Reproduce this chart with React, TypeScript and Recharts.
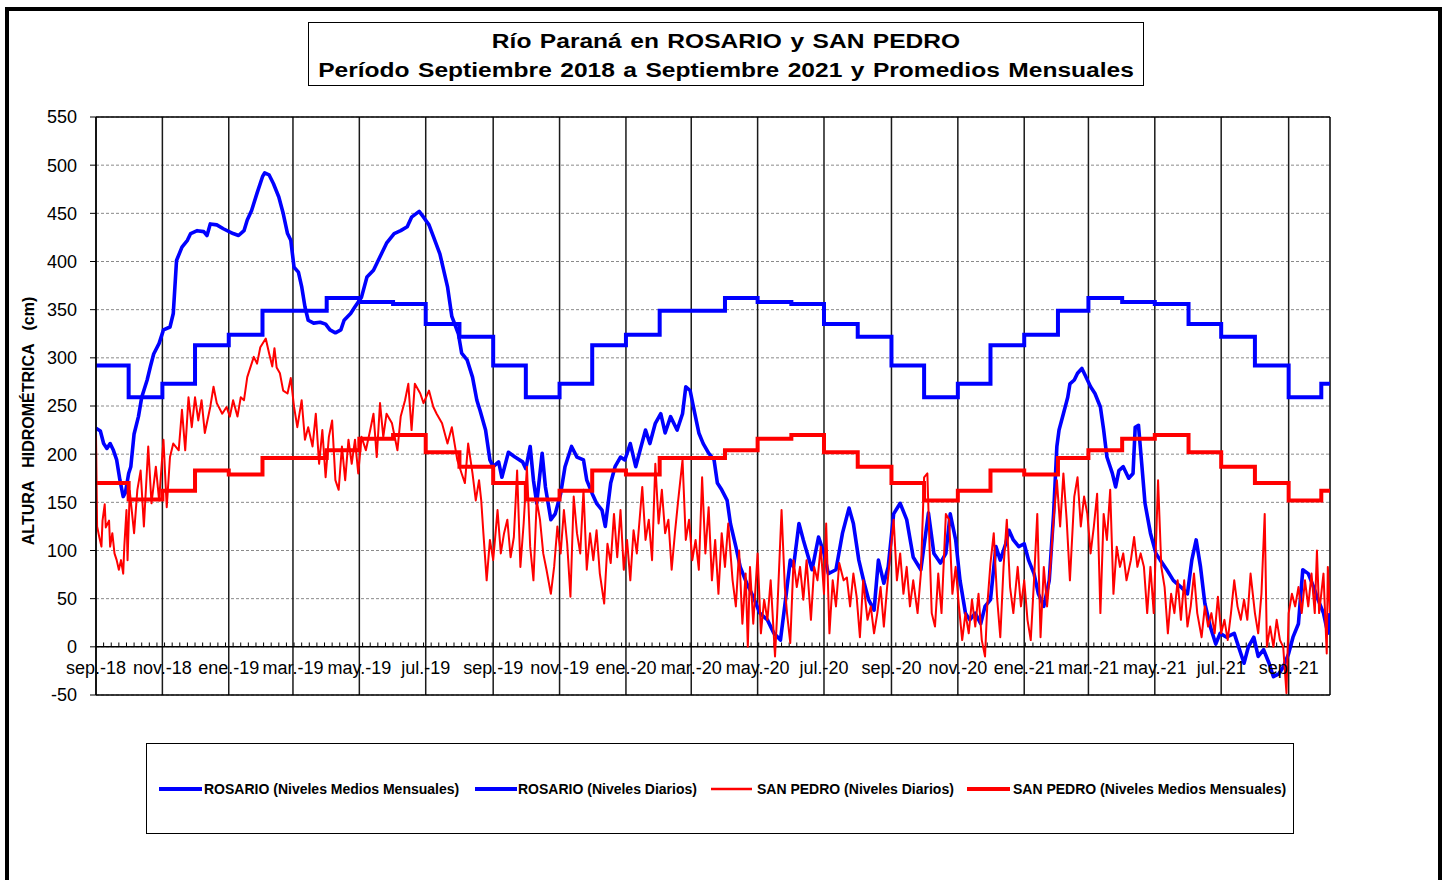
import React from 'react';
import { LineChart, Line, XAxis, YAxis, CartesianGrid, ReferenceLine } from 'recharts';

// ---------- DATA ----------
// months covered by the monthly-mean step lines (Sep 2018 .. Oct 2021)
const monthKeys = [
  '2018-09', '2018-10', '2018-11', '2018-12', '2019-01', '2019-02', '2019-03', '2019-04', '2019-05', '2019-06', '2019-07', '2019-08',
  '2019-09', '2019-10', '2019-11', '2019-12', '2020-01', '2020-02', '2020-03', '2020-04', '2020-05', '2020-06', '2020-07', '2020-08',
  '2020-09', '2020-10', '2020-11', '2020-12', '2021-01', '2021-02', '2021-03', '2021-04', '2021-05', '2021-06', '2021-07', '2021-08',
  '2021-09', '2021-10',
];

const rosarioMonthly = [
  292, 259, 273, 313, 324, 349, 349, 362, 358, 356, 335, 322,
  292, 259, 273, 313, 324, 349, 349, 362, 358, 356, 335, 322,
  292, 259, 273, 313, 324, 349, 362, 358, 356, 335, 322, 292,
  259, 273,
];

const sanPedroMonthly = [
  170, 153, 162, 183, 179, 196, 196, 204, 216, 220, 202, 187,
  170, 153, 162, 183, 179, 196, 196, 204, 216, 220, 202, 187,
  170, 152, 162, 183, 179, 196, 204, 216, 220, 202, 187, 170,
  152, 162,
];

// tick labels (every two months)
const tickMonths = [
  '2018-09', '2018-11', '2019-01', '2019-03', '2019-05', '2019-07', '2019-09', '2019-11', '2020-01', '2020-03',
  '2020-05', '2020-07', '2020-09', '2020-11', '2021-01', '2021-03', '2021-05', '2021-07', '2021-09',
];
const tickLabels = [
  'sep.-18', 'nov.-18', 'ene.-19', 'mar.-19', 'may.-19', 'jul.-19', 'sep.-19', 'nov.-19', 'ene.-20', 'mar.-20',
  'may.-20', 'jul.-20', 'sep.-20', 'nov.-20', 'ene.-21', 'mar.-21', 'may.-21', 'jul.-21', 'sep.-21',
];

// daily levels: [days since 1 Sep 2018, cm]
const rosarioDaily: [number, number][] = [
  [0, 227], [4, 224], [7, 211], [10, 206], [13, 211], [16, 204], [19, 194], [22, 173], [25, 156], [27, 160], [30, 180], [32, 187],
  [35, 221], [39, 239], [42, 259], [47, 277], [50, 291], [53, 304], [58, 315], [62, 329], [68, 332], [71, 346], [74, 401], [79, 415],
  [84, 422], [87, 429], [93, 432], [99, 431], [102, 427], [105, 439], [111, 438], [117, 434], [126, 429], [131, 427], [136, 432],
  [139, 443], [143, 453], [148, 471], [153, 488], [155, 492], [159, 490], [163, 481], [168, 467], [172, 450], [176, 429], [179, 422],
  [182, 394], [186, 389], [189, 374], [192, 353], [195, 339], [200, 336], [206, 337], [211, 335], [215, 329], [220, 326], [225, 329],
  [228, 339], [234, 346], [238, 353], [244, 363], [249, 384], [255, 391], [261, 405], [267, 419], [274, 429], [280, 432], [286, 436],
  [290, 446], [297, 452], [301, 446], [306, 438], [310, 426], [316, 408], [323, 374], [327, 343], [333, 325], [336, 305], [341, 298],
  [346, 280], [350, 256], [353, 245], [358, 225], [362, 194], [365, 187], [370, 192], [373, 176], [379, 202], [385, 197], [392, 192],
  [395, 185], [399, 208], [402, 173], [405, 149], [410, 201], [413, 166], [418, 132], [422, 138], [427, 159], [431, 187], [437, 208],
  [442, 197], [448, 194], [451, 173], [456, 159], [460, 149], [465, 142], [468, 125], [473, 170], [477, 187], [482, 197], [486, 194],
  [491, 211], [496, 187], [500, 204], [505, 225], [509, 211], [514, 232], [519, 242], [523, 222], [528, 239], [534, 225], [539, 242],
  [542, 270], [546, 266], [549, 249], [554, 222], [558, 211], [563, 201], [568, 194], [571, 170], [575, 163], [580, 152], [583, 128],
  [588, 104], [592, 83], [598, 66], [604, 52], [610, 35], [617, 28], [623, 14], [629, 7], [634, 52], [638, 90], [641, 83], [646, 128],
  [650, 111], [658, 80], [664, 114], [669, 97], [673, 76], [680, 80], [686, 118], [692, 144], [696, 128], [701, 90], [706, 66],
  [710, 49], [715, 38], [719, 90], [724, 66], [728, 83], [733, 138], [739, 149], [745, 132], [751, 93], [758, 80], [765, 139],
  [770, 97], [776, 87], [781, 97], [785, 138], [790, 111], [794, 69], [799, 35], [803, 28], [808, 35], [813, 24], [817, 42], [822, 49],
  [827, 104], [831, 90], [836, 107], [839, 121], [843, 111], [848, 104], [853, 107], [857, 90], [862, 76], [866, 55], [871, 42],
  [876, 69], [880, 138], [883, 208], [885, 225], [889, 242], [893, 259], [895, 273], [899, 277], [902, 284], [906, 289], [909, 282],
  [914, 270], [918, 263], [923, 249], [926, 225], [929, 197], [934, 180], [937, 166], [940, 183], [944, 187], [949, 175], [953, 180],
  [955, 228], [958, 230], [961, 190], [964, 149], [969, 118], [974, 97], [978, 90], [984, 80], [990, 69], [997, 62], [1003, 55],
  [1007, 90], [1011, 111], [1015, 83], [1019, 45], [1024, 21], [1029, 3], [1033, 14], [1039, 10], [1046, 14], [1050, 0], [1055, -17],
  [1059, 0], [1064, 10], [1068, -10], [1073, -3], [1078, -17], [1082, -31], [1087, -28], [1091, -21], [1096, -7], [1100, 10],
  [1105, 24], [1109, 80], [1114, 76], [1119, 62], [1123, 49], [1128, 35], [1132, 14], [1134, 35],
];

const sanPedroDaily: [number, number][] = [
  [0, 220], [1, 125], [3, 114], [5, 104], [6, 131], [8, 148], [9, 124], [12, 131], [13, 104], [15, 118], [17, 97], [19, 90], [21, 80],
  [23, 90], [25, 76], [26, 104], [28, 142], [29, 90], [31, 162], [35, 118], [38, 163], [41, 183], [44, 125], [48, 208], [51, 149],
  [55, 187], [58, 152], [62, 215], [65, 145], [68, 197], [71, 211], [76, 204], [79, 246], [82, 204], [85, 259], [88, 228], [91, 259],
  [94, 235], [97, 256], [100, 222], [105, 249], [108, 270], [111, 253], [116, 242], [120, 249], [123, 239], [126, 256], [130, 239],
  [133, 259], [136, 256], [139, 280], [145, 301], [148, 294], [151, 311], [156, 320], [159, 305], [162, 291], [164, 310], [166, 290],
  [169, 284], [172, 266], [176, 263], [179, 279], [182, 249], [185, 228], [189, 256], [192, 215], [195, 228], [199, 208], [202, 242],
  [205, 190], [208, 225], [211, 176], [214, 218], [217, 235], [220, 173], [223, 163], [226, 208], [229, 173], [232, 215], [235, 190],
  [238, 215], [241, 180], [244, 218], [248, 204], [252, 225], [255, 242], [258, 197], [261, 253], [264, 218], [267, 242], [272, 232],
  [277, 204], [280, 239], [284, 256], [287, 273], [290, 225], [293, 273], [298, 263], [301, 253], [306, 266], [310, 249], [313, 242],
  [318, 232], [323, 211], [327, 228], [332, 194], [336, 180], [339, 170], [342, 211], [346, 180], [349, 152], [352, 173], [354, 152],
  [356, 118], [359, 69], [362, 111], [365, 90], [369, 142], [372, 97], [375, 118], [378, 132], [381, 93], [384, 114], [387, 183],
  [390, 83], [393, 128], [396, 187], [399, 104], [402, 69], [405, 152], [408, 132], [411, 97], [414, 80], [418, 55], [421, 83],
  [424, 125], [427, 97], [430, 142], [433, 107], [436, 52], [439, 156], [442, 118], [445, 97], [448, 163], [451, 80], [454, 118],
  [457, 90], [460, 121], [463, 76], [467, 45], [470, 107], [473, 87], [476, 138], [479, 93], [482, 142], [485, 80], [488, 111],
  [491, 69], [494, 121], [497, 97], [502, 166], [505, 111], [508, 132], [511, 90], [514, 190], [517, 128], [520, 163], [523, 118],
  [526, 132], [529, 80], [532, 118], [535, 152], [539, 194], [542, 111], [545, 132], [548, 90], [551, 111], [554, 80], [557, 176],
  [560, 97], [563, 145], [566, 69], [569, 111], [572, 55], [575, 118], [578, 83], [581, 128], [585, 69], [588, 42], [591, 100],
  [594, 24], [597, 76], [599, 0], [601, 83], [604, 24], [608, 97], [611, 14], [614, 49], [617, 28], [620, 69], [624, -10], [626, 35],
  [630, 142], [633, 62], [635, 35], [638, 4], [641, 90], [644, 62], [647, 83], [650, 49], [653, 90], [657, 28], [660, 83], [663, 69],
  [666, 104], [669, 55], [671, 128], [674, 14], [677, 69], [680, 42], [683, 87], [687, 69], [690, 72], [693, 42], [696, 76], [699, 52],
  [702, 10], [705, 69], [709, 28], [712, 42], [715, 14], [718, 35], [721, 62], [724, 21], [727, 62], [730, 97], [733, 132], [736, 69],
  [739, 97], [742, 55], [745, 83], [748, 42], [751, 69], [755, 35], [758, 76], [761, 176], [764, 180], [766, 104], [768, 35], [771, 21],
  [774, 76], [777, 35], [781, 138], [784, 132], [787, 55], [790, 83], [793, 42], [796, 7], [799, 35], [802, 14], [805, 49], [808, 21],
  [811, 55], [814, 7], [817, -10], [819, 42], [822, 87], [825, 118], [828, 52], [831, 10], [834, 83], [837, 132], [840, 62], [843, 35],
  [847, 83], [850, 42], [853, 69], [856, 28], [859, 7], [862, 69], [865, 138], [868, 10], [871, 83], [874, 42], [877, 83], [880, 132],
  [883, 173], [886, 125], [889, 180], [892, 132], [895, 69], [899, 156], [902, 176], [905, 125], [908, 156], [911, 138], [914, 97],
  [917, 125], [920, 159], [923, 35], [926, 138], [929, 111], [932, 163], [935, 55], [938, 104], [941, 83], [944, 97], [947, 69],
  [951, 90], [954, 114], [957, 83], [960, 97], [963, 83], [966, 35], [969, 83], [972, 35], [976, 173], [979, 83], [982, 62], [985, 14],
  [988, 55], [991, 35], [994, 69], [997, 28], [1000, 69], [1003, 21], [1006, 42], [1009, 76], [1012, 35], [1016, 10], [1019, 42],
  [1022, 21], [1025, 35], [1028, 14], [1031, 52], [1034, 14], [1037, 28], [1040, 7], [1043, 35], [1046, 69], [1049, 42], [1052, 28],
  [1055, 49], [1058, 28], [1061, 76], [1065, 35], [1068, 14], [1071, 55], [1074, 138], [1076, 0], [1079, 21], [1082, 0], [1085, 28],
  [1088, 7], [1091, 0], [1094, -48], [1096, 35], [1099, 55], [1102, 42], [1105, 62], [1108, 35], [1111, 69], [1114, 42], [1117, 76],
  [1120, 35], [1122, 100], [1124, 35], [1128, 76], [1131, -7], [1132, 83], [1134, 35],
];

const yTicks = [-50, 0, 50, 100, 150, 200, 250, 300, 350, 400, 450, 500, 550];
const LAST_DAY = 1134;

// ---------- derived tables ----------
const START = Date.UTC(2018, 8, 1);
const dayOfKey = (k: string) => {
  const [y, m] = k.split('-').map(Number);
  return Math.round((Date.UTC(y, m - 1, 1) - START) / 86400000);
};

const stepTable = (vals: number[]) => {
  const rows = monthKeys.map((k, i) => ({ d: dayOfKey(k), v: vals[i] }));
  rows.push({ d: LAST_DAY, v: vals[vals.length - 1] });
  return rows;
};
const dailyTable = (pairs: [number, number][]) => pairs.map(([d, v]) => ({ d, v }));

const rosarioMonthlyData = stepTable(rosarioMonthly);
const sanPedroMonthlyData = stepTable(sanPedroMonthly);
const rosarioDailyData = dailyTable(rosarioDaily);
const sanPedroDailyData = dailyTable(sanPedroDaily);

const tickDays = tickMonths.map(dayOfKey);
const labelByDay: Record<number, string> = {};
tickDays.forEach((d, i) => { labelByDay[d] = tickLabels[i]; });
const minorTickDays: number[] = [];
for (let d = 7; d < LAST_DAY; d += 7) minorTickDays.push(d);

const FONT = '"Liberation Sans", Arial, Helvetica, sans-serif';
const BLUE = '#0000FF';
const RED = '#FF0000';

const XTick = (props: any) => {
  const { x, y, payload } = props;
  return (
    <text x={x} y={y - 21} textAnchor="middle" fontSize={18} fontFamily={FONT} fill="#000">
      {labelByDay[payload.value]}
    </text>
  );
};

const legendItems = [
  { label: 'ROSARIO (Niveles Medios Mensuales)', color: BLUE, w: 4, l1: 159, l2: 202, t: 204 },
  { label: 'ROSARIO (Niveles Diarios)', color: BLUE, w: 4, l1: 475, l2: 517, t: 518 },
  { label: 'SAN PEDRO (Niveles Diarios)', color: RED, w: 2.5, l1: 711, l2: 752, t: 757 },
  { label: 'SAN PEDRO (Niveles Medios Mensuales)', color: RED, w: 4, l1: 967, l2: 1010, t: 1013 },
];

export default function App() {
  return (
    <div style={{ position: 'absolute', left: 0, top: 0, width: 1450, height: 880, overflow: 'hidden', background: '#fff', fontFamily: FONT }}>
      <div style={{ position: 'absolute', left: 0, top: 0 }}>
        <LineChart width={1450} height={880} margin={{ top: 117, right: 120, bottom: 155, left: 36 }}>
          <CartesianGrid horizontal vertical={false} stroke="#8a8a8a" strokeDasharray="3 2" />
          <XAxis
            dataKey="d"
            type="number"
            domain={[0, LAST_DAY]}
            ticks={tickDays}
            interval={0}
            allowDataOverflow
            height={30}
            tickLine={false}
            tickSize={0}
            tickMargin={0}
            axisLine={{ stroke: '#000', strokeWidth: 1.5 }}
            tick={<XTick />}
          />
          <YAxis
            type="number"
            domain={[-50, 550]}
            ticks={yTicks}
            interval={0}
            width={60}
            allowDataOverflow
            axisLine={{ stroke: '#000', strokeWidth: 1.5 }}
            tickLine={{ stroke: '#000', strokeWidth: 1 }}
            tickSize={6}
            tickMargin={13}
            tick={{ fontSize: 18, fill: '#000', fontFamily: FONT }}
          />
          {tickDays.map((d) => (
            <ReferenceLine key={'v' + d} x={d} stroke="#1a1a1a" strokeWidth={1.5} />
          ))}
          <ReferenceLine y={550} stroke="#000" strokeWidth={1.5} />
          <ReferenceLine x={LAST_DAY} stroke="#000" strokeWidth={1.5} />
          <ReferenceLine y={0} stroke="#000" strokeWidth={1.5} />
          {minorTickDays.map((d) => (
            <ReferenceLine key={'m' + d} segment={[{ x: d, y: 0 }, { x: d, y: 4.5 }]} stroke="#000" strokeWidth={1} />
          ))}
          <Line data={rosarioMonthlyData} dataKey="v" type="stepAfter" stroke={BLUE} strokeWidth={4} dot={false} isAnimationActive={false} name="ROSARIO (Niveles Medios Mensuales)" />
          <Line data={rosarioDailyData} dataKey="v" type="linear" stroke={BLUE} strokeWidth={3.6} strokeLinejoin="round" dot={false} isAnimationActive={false} name="ROSARIO (Niveles Diarios)" />
          <Line data={sanPedroDailyData} dataKey="v" type="linear" stroke={RED} strokeWidth={2} strokeLinejoin="round" dot={false} isAnimationActive={false} name="SAN PEDRO (Niveles Diarios)" />
          <Line data={sanPedroMonthlyData} dataKey="v" type="stepAfter" stroke={RED} strokeWidth={4} dot={false} isAnimationActive={false} name="SAN PEDRO (Niveles Medios Mensuales)" />
        </LineChart>
      </div>

      {/* outer frame */}
      <div style={{ position: 'absolute', left: 5, top: 7, width: 1437, height: 873, boxSizing: 'border-box', borderTop: '4px solid #000', borderLeft: '4px solid #000', borderRight: '4px solid #000', pointerEvents: 'none' }} />

      {/* title */}
      <div style={{ position: 'absolute', left: 308, top: 22, width: 836, height: 64, boxSizing: 'border-box', border: '1px solid #000', background: '#fff' }} />
      <svg style={{ position: 'absolute', left: 0, top: 0 }} width={1450} height={880} pointerEvents="none">
        <g transform="translate(726 48) scale(1.17 1)">
          <text x={0} y={0} textAnchor="middle" fontFamily={FONT} fontWeight="bold" fontSize={21} wordSpacing={1.4} fill="#000">
            Río Paraná en ROSARIO y SAN PEDRO
          </text>
        </g>
        <g transform="translate(726 76.5) scale(1.17 1)">
          <text x={0} y={0} textAnchor="middle" fontFamily={FONT} fontWeight="bold" fontSize={21} wordSpacing={1.4} fill="#000">
            Período Septiembre 2018 a Septiembre 2021 y Promedios Mensuales
          </text>
        </g>
        <text x={34} y={421} transform="rotate(-90 34 421)" textAnchor="middle" fontFamily={FONT} fontWeight="bold" fontSize={16} wordSpacing={9} fill="#000">
          ALTURA HIDROMÉTRICA (cm)
        </text>
      </svg>

      {/* legend */}
      <div style={{ position: 'absolute', left: 146, top: 743, width: 1148, height: 91, boxSizing: 'border-box', border: '1px solid #000', background: '#fff' }} />
      <svg style={{ position: 'absolute', left: 0, top: 0 }} width={1450} height={880} pointerEvents="none">
        {legendItems.map((it) => (
          <g key={it.label}>
            <line x1={it.l1} x2={it.l2} y1={789} y2={789} stroke={it.color} strokeWidth={it.w} />
            <text x={it.t} y={794} fontFamily={FONT} fontWeight="bold" fontSize={14} fill="#000">{it.label}</text>
          </g>
        ))}
      </svg>
    </div>
  );
}
